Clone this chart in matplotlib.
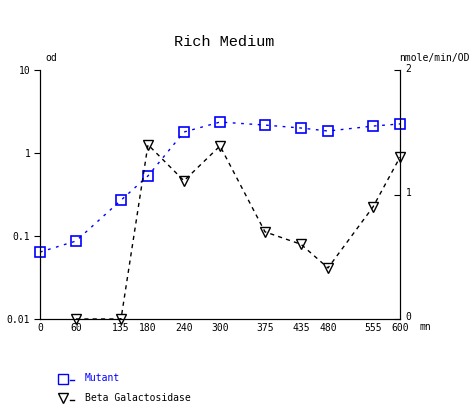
import matplotlib
matplotlib.use('Agg')
import matplotlib.pyplot as plt
import matplotlib.transforms as mtransforms
import numpy as np

# minutes
times = [0, 60, 135, 180, 240, 300, 375, 435, 480, 555, 600]
mutant_od = [0.064, 0.087, 0.27, 0.53, 1.79, 2.36, 2.17, 2.0, 1.84, 2.11, 2.24]

beta_times = [60, 135, 180, 240, 300, 375, 435, 480, 555, 600]
beta_gal = [0.0, 0.0, 1.40, 1.11, 1.39, 0.70, 0.60, 0.41, 0.90, 1.30]

font = 'DejaVu Sans Mono'
fs = 7

fig = plt.figure(figsize=(4.72, 4.05), dpi=100)
ax = fig.add_axes([40/472, 86/405, 360/472, 249/405])
ax.set_yscale('log')
ax.set_ylim(0.01, 10)
ax.set_xlim(0, 600)

ax.plot(times, mutant_od, color='blue', linestyle=(0, (2, 4)), linewidth=1,
        marker='s', markersize=7, markerfacecolor='none', markeredgecolor='blue',
        markeredgewidth=1.2, clip_on=False, zorder=3)

ax2 = ax.twinx()
ax2.set_ylim(0, 2)
ax2.plot(beta_times, beta_gal, color='black', linestyle=(0, (3, 3)), linewidth=1,
         marker='v', markersize=7.5, markerfacecolor='none', markeredgecolor='black',
         markeredgewidth=1, clip_on=False, zorder=3)

for a in (ax, ax2):
    a.spines['top'].set_visible(False)
    a.set_xlim(0, 600)

ax.set_xticks(times)
ax.set_xticklabels([str(t) for t in times], fontfamily=font, fontsize=fs)
ax.tick_params(axis='x', length=0, pad=3)
ax.set_yticks([0.01, 0.1, 1, 10])
ax.set_yticklabels(['0.01', '0.1', '1', '10'], fontfamily=font, fontsize=fs)
ax.yaxis.set_minor_locator(matplotlib.ticker.NullLocator())
ax.tick_params(axis='y', length=4, direction='out', pad=3)

ax2.set_yticks([0, 1, 2])
ax2.set_yticklabels(['0', '1', '2'], fontfamily=font, fontsize=fs)
ax2.tick_params(axis='y', length=4, direction='in', pad=4)
up = mtransforms.ScaledTranslation(0, 2.5/100, fig.dpi_scale_trans)
for lbl in ax2.get_yticklabels():
    lbl.set_transform(lbl.get_transform() + up)

fig.text(45/472, 1 - 58/405, 'od', fontfamily=font, fontsize=fs, va='center', ha='left')
fig.text(399/472, 1 - 58/405, 'nmole/min/OD', fontfamily=font, fontsize=fs, va='center', ha='left')
fig.text(419/472, 1 - 327/405, 'mn', fontfamily=font, fontsize=fs, va='center', ha='left')
fig.text(224/472, 1 - 42/405, 'Rich Medium', fontfamily='Liberation Mono', fontsize=11,
         va='center', ha='center')

# legend
fig.lines.append(plt.Line2D([63/472], [1 - 379/405], marker='s', markersize=6.5,
                            markerfacecolor='none', markeredgecolor='blue',
                            transform=fig.transFigure))
fig.lines.append(plt.Line2D([70/472, 74/472], [1 - 380/405, 1 - 380/405],
                            color='blue', lw=1, transform=fig.transFigure))
fig.text(85/472, 1 - 378/405, 'Mutant', color='blue', fontfamily=font, fontsize=fs,
         va='center', ha='left')
fig.lines.append(plt.Line2D([63/472], [1 - 398/405], marker='v', markersize=7,
                            markerfacecolor='none', markeredgecolor='black',
                            transform=fig.transFigure))
fig.lines.append(plt.Line2D([70/472, 74/472], [1 - 400/405, 1 - 400/405],
                            color='black', lw=1, transform=fig.transFigure))
fig.text(85/472, 1 - 398/405, 'Beta Galactosidase', color='black', fontfamily=font,
         fontsize=fs, va='center', ha='left')

fig.savefig('out.png', dpi=100)
